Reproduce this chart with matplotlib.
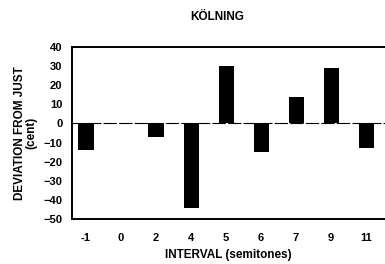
import matplotlib.pyplot as plt
import numpy as np

intervals = ['-1', '0', '2', '4', '5', '6', '7', '9', '11']
deviation = [-14, 0, -7, -44, 30, -15, 14, 29, -13]

plt.rcParams['font.family'] = ['Liberation Sans', 'DejaVu Sans']
plt.rcParams['font.weight'] = 'bold'

fig = plt.figure(figsize=(3.85, 2.64), dpi=100)
ax = fig.add_axes([0.187, 0.170, 0.813, 0.652])

x = np.arange(len(intervals))
ax.bar(x, deviation, width=0.43, color='black')
ax.axhline(0, color='black', linewidth=0.8, linestyle=(0, (12, 2)))

ax.set_xlim(-0.4, 8.54)
ax.set_ylim(-50, 40)
ax.set_yticks(range(-50, 41, 10))
ax.set_xticks(x)
ax.set_xticklabels(intervals)
ax.tick_params(length=0, labelsize=8)
ax.tick_params(axis='x', pad=10)
ax.tick_params(axis='y', pad=7)
for s in ['left', 'top', 'bottom']:
    ax.spines[s].set_linewidth(1.4)
ax.spines['right'].set_visible(False)

ax.set_xlabel('INTERVAL (semitones)', fontsize=8.5, fontweight='bold', labelpad=4)
ax.set_ylabel('DEVIATION FROM JUST\n(cent)', fontsize=8.5, fontweight='bold', labelpad=4, linespacing=0.95)
fig.text(0.565, 0.935, 'KÖLNING', ha='center', va='center', fontsize=8.5, fontweight='bold')

plt.savefig('out.png', dpi=100)
